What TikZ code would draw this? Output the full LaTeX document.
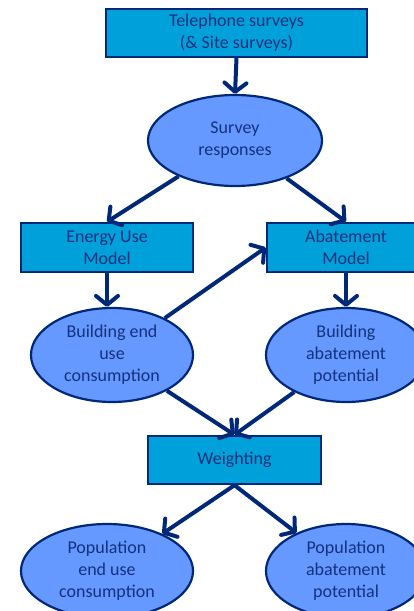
\documentclass[tikz,border=0pt]{standalone}
\usepackage{fontspec}
\setmainfont{Carlito}
\usetikzlibrary{arrows.meta,shapes.geometric}
\definecolor{boxfill}{RGB}{0,160,218}
\definecolor{ellfill}{RGB}{102,153,255}
\definecolor{navy}{RGB}{0,40,120}
\definecolor{txt}{RGB}{20,50,125}
\tikzset{
  boxnode/.style={draw=navy, line width=2.4pt, fill=boxfill, rectangle, inner sep=0pt, align=center, text=txt, font=\fontsize{18}{22}\selectfont},
  ellnode/.style={draw=navy, line width=2.2pt, fill=ellfill, ellipse, inner sep=0pt, align=center, text=txt, font=\fontsize{18}{22}\selectfont},
  flow/.style={draw=navy, line width=4pt, -{Straight Barb[length=9pt,width=22pt,round]}}
}
\begin{document}
\begin{tikzpicture}[x=1pt,y=-1pt]
\useasboundingbox (0,0) rectangle (414,611);
\clip (0,0) rectangle (414,611);
\node[boxnode, minimum width=261pt, minimum height=48pt] (tel) at (236.5,33) {Telephone surveys\\(\& Site surveys)};
\node[ellnode, minimum width=174pt, minimum height=91pt] (surv) at (235,140.5) {Survey\\responses};
\node[boxnode, minimum width=172pt, minimum height=49pt] (eum) at (107,247.5) {Energy Use\\Model};
\node[boxnode, minimum width=158pt, minimum height=49pt] (abm) at (346,247.5) {Abatement\\Model};
\node[ellnode, minimum width=162pt, minimum height=94pt] (beu) at (112,355) {Building end\\use\\consumption};
\node[ellnode, minimum width=160pt, minimum height=94pt] (bap) at (346,355) {Building\\abatement\\potential};
\node[boxnode, minimum width=173pt, minimum height=48pt] (wt) at (234.5,460) {Weighting};
\node[ellnode, minimum width=172pt, minimum height=94pt] (peu) at (107,571) {Population\\end use\\consumption};
\node[ellnode, minimum width=160pt, minimum height=94pt] (pap) at (346,571) {Population\\abatement\\potential};
\draw[flow] (tel.south) -- (surv.north);
\draw[flow] (surv) -- (eum.north);
\draw[flow] (surv) -- (abm.north);
\draw[flow] (eum.south) -- (eum.south |- beu.north);
\draw[flow] (abm.south) -- (bap.north);
\draw[flow] (beu) -- (abm.west);
\draw[flow] (beu) -- (wt.north);
\draw[flow] (bap) -- (wt.north);
\draw[flow] (wt.south) -- (peu);
\draw[flow] (wt.south) -- (pap);
\end{tikzpicture}
\end{document}
